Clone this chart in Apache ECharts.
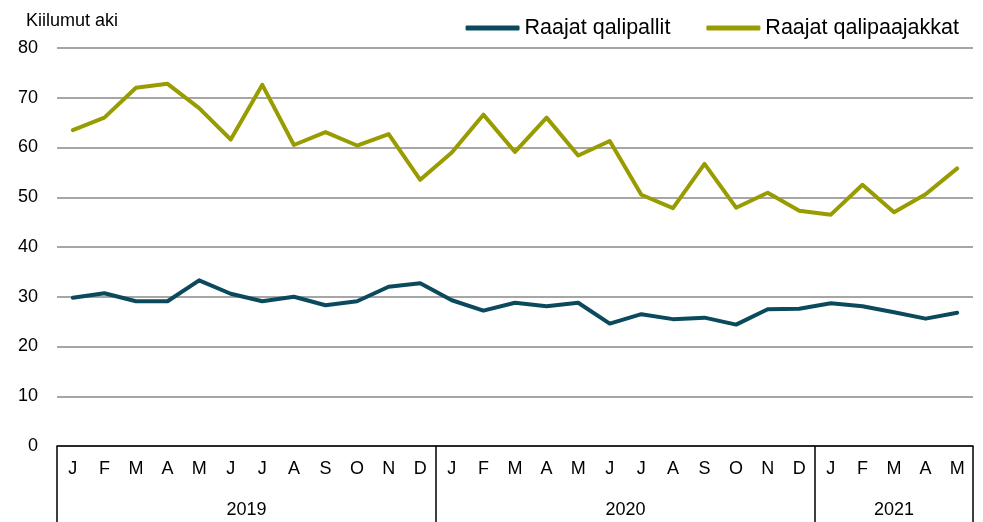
<!DOCTYPE html>
<html>
<head>
<meta charset="utf-8">
<script src="https://cdn.jsdelivr.net/npm/echarts@6/dist/echarts.min.js"></script>
<style>
  html, body { margin: 0; padding: 0; background: #fff; }
  #chart { width: 983px; height: 522px; }
</style>
</head>
<body>
<div id="chart"></div>
<script>
// kuukaudet ja vuodet
const months = ['J','F','M','A','M','J','J','A','S','O','N','D',
                'J','F','M','A','M','J','J','A','S','O','N','D',
                'J','F','M','A','M']
const years = ['2019', '2020', '2021']
const monthsInYear = [12, 12, 5]

const yTicks = { min: 0, max: 80, interval: 10 }

const qalipallit = [29.8, 30.7, 29.1, 29.1, 33.3, 30.6, 29.1, 30.0, 28.3, 29.1, 32.0, 32.7,
                    29.3, 27.2, 28.8, 28.1, 28.8, 24.6, 26.5, 25.5, 25.8, 24.4, 27.5, 27.6,
                    28.7, 28.1, 26.9, 25.6, 26.8]
const qalipaajakkat = [63.5, 66.0, 72.0, 72.8, 67.9, 61.6, 72.6, 60.5, 63.1, 60.4, 62.7, 53.5,
                       59.0, 66.6, 59.1, 66.0, 58.4, 61.3, 50.5, 47.8, 56.7, 47.9, 50.9, 47.3,
                       46.5, 52.5, 47.0, 50.6, 55.8]

// vuosiakseli puolen kuukauden askelin (reunat + keskikohdat)
const boundaries = [0]
monthsInYear.forEach((n, i) => boundaries.push(boundaries[i] + n * 2))
const centers = {}
years.forEach((y, i) => { centers[(boundaries[i] + boundaries[i + 1]) / 2] = y })
const halfSteps = []
for (let j = 0; j <= boundaries[boundaries.length - 1]; j++) {
  halfSteps.push(centers[j] || '')
}

const chart = echarts.init(document.getElementById('chart'))
const font = 'Liberation Sans, Arial, sans-serif'

chart.setOption({
  animation: false,
  textStyle: { fontFamily: font },
  title: {
    text: 'Kiilumut aki',
    left: 21,
    top: 7,
    textStyle: { fontSize: 18, fontWeight: 'normal', color: '#000', fontFamily: font }
  },
  legend: {
    right: 19,
    top: 12,
    icon: 'roundRect',
    itemWidth: 54,
    itemHeight: 5,
    itemGap: 36,
    textStyle: { fontSize: 21.5, color: '#000', fontFamily: font },
    data: ['Raajat qalipallit', 'Raajat qalipaajakkat']
  },
  grid: { left: 57, right: 10, top: 48, bottom: 76, containLabel: false },
  xAxis: [
    {
      type: 'category',
      data: months,
      boundaryGap: true,
      axisLine: { lineStyle: { color: '#000', width: 1.5 } },
      axisTick: { show: false },
      axisLabel: { interval: 0, fontSize: 18, color: '#000', margin: 14, fontFamily: font }
    },
    {
      type: 'category',
      data: halfSteps,
      boundaryGap: false,
      position: 'bottom',
      axisLine: { show: false },
      axisTick: {
        show: true,
        length: 78,
        interval: (i) => boundaries.indexOf(i) >= 0,
        lineStyle: { color: '#000', width: 1.5 }
      },
      axisLabel: {
        interval: (i) => centers[i] !== undefined,
        fontSize: 18,
        color: '#000',
        margin: 55,
        fontFamily: font
      },
      splitLine: { show: false }
    }
  ],
  yAxis: {
    type: 'value',
    min: yTicks.min,
    max: yTicks.max,
    interval: yTicks.interval,
    axisLine: { show: false },
    axisTick: { show: false },
    axisLabel: { fontSize: 18, color: '#000', margin: 19, fontFamily: font },
    splitLine: { lineStyle: { color: '#a6a6a6', width: 2 } }
  },
  series: [
    {
      name: 'Raajat qalipallit',
      type: 'line',
      data: qalipallit,
      symbol: 'none',
      lineStyle: { color: '#0b4a5c', width: 4, cap: 'round', join: 'round' },
      itemStyle: { color: '#0b4a5c' }
    },
    {
      name: 'Raajat qalipaajakkat',
      type: 'line',
      data: qalipaajakkat,
      symbol: 'none',
      lineStyle: { color: '#999c00', width: 4, cap: 'round', join: 'round' },
      itemStyle: { color: '#999c00' }
    }
  ]
})
</script>
</body>
</html>
